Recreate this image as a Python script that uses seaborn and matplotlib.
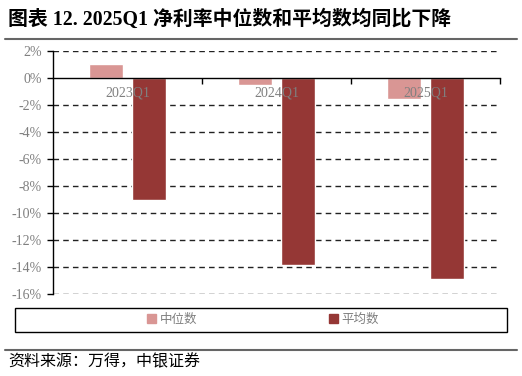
import matplotlib
matplotlib.use("Agg")
import matplotlib.pyplot as plt
import seaborn as sns
import pandas as pd
from matplotlib.lines import Line2D
from matplotlib.patches import Rectangle
from matplotlib.ticker import FixedLocator, PercentFormatter

categories = ["2023Q1", "2024Q1", "2025Q1"]
median_vals = [1.05, -0.55, -1.56]
mean_vals = [-9.06, -13.86, -14.9]
series_names = ["中位数", "平均数"]
yticks = [2, 0, -2, -4, -6, -8, -10, -12, -14, -16]

sns.set_theme(style="white")
FAM = ["Liberation Serif", "Noto Sans CJK SC"]
plt.rcParams["font.family"] = FAM
plt.rcParams["axes.unicode_minus"] = False

df = pd.DataFrame({
    "cat": categories * 2,
    "val": median_vals + mean_vals,
    "series": [series_names[0]] * 3 + [series_names[1]] * 3,
})

colors = {"中位数": "#D99694", "平均数": "#953735"}

fig = plt.figure(figsize=(5.22, 3.76), dpi=100)
ax = fig.add_axes([53 / 522, 1 - 294 / 376, 447 / 522, 243 / 376])

sns.barplot(data=df, x="cat", y="val", hue="series", palette=colors,
            width=0.576, gap=0.2, ax=ax, legend=False, saturation=1)

ax.set_xlim(-0.5, 2.5)
ax.set_ylim(-16, 2)
ax.set_xlabel("")
ax.set_ylabel("")

# grid
for y in yticks:
    if y != 0:
        ax.axhline(y, color="#222222", lw=1, ls=(0, (4, 3)), zorder=0)

for s in ["top", "right"]:
    ax.spines[s].set_visible(False)
ax.spines["bottom"].set_position(("data", 0))
ax.spines["bottom"].set_color("black")
ax.spines["bottom"].set_linewidth(1)
ax.spines["bottom"].set_zorder(5)
ax.spines["left"].set_color("black")
ax.spines["left"].set_linewidth(1)
ax.xaxis.set_zorder(10)

ax.yaxis.set_major_locator(FixedLocator(yticks))
ax.yaxis.set_major_formatter(PercentFormatter(decimals=0))
ax.tick_params(axis="y", direction="out", length=4, width=1, color="black",
               labelsize=10, labelcolor="#7f7f7f", pad=4, left=True)

ax.set_xticks([0, 1, 2])
ax.set_xticklabels(categories)
ax.xaxis.set_minor_locator(FixedLocator([0.5, 1.5, 2.5]))
ax.tick_params(axis="x", which="major", length=0, labelsize=10,
               labelcolor="#7f7f7f", pad=6)
ax.tick_params(axis="x", which="minor", direction="out", length=4, width=1,
               color="black", bottom=True)

# title
fig.text(8 / 522, 1 - 20 / 376, "图表 12. 2025Q1 净利率中位数和平均数均同比下降",
         fontsize=14.3, fontweight="bold", va="center", ha="left",
         family=FAM, color="black")
fig.add_artist(Line2D([5 / 522, 517 / 522], [1 - 39 / 376] * 2,
                      color="#666666", lw=1.5, transform=fig.transFigure))
fig.add_artist(Line2D([5 / 522, 517 / 522], [1 - 350 / 376] * 2,
                      color="#666666", lw=1.5, transform=fig.transFigure))

# legend box
fig.add_artist(Rectangle((15 / 522, 1 - 332 / 376), 492 / 522, 24 / 376,
                         fill=False, edgecolor="black", lw=1,
                         transform=fig.transFigure))
handles = [Rectangle((0, 0), 1, 1, color=colors[s]) for s in series_names]
fig.legend(handles, series_names, loc="center", ncol=2,
           bbox_to_anchor=(263 / 522, 1 - 320 / 376), frameon=False,
           labelcolor="#7f7f7f", handlelength=0.75,
           handleheight=0.75, handletextpad=0.3, columnspacing=10.5,
           prop={"family": FAM, "size": 9})

fig.text(8 / 522, 1 - 362 / 376, "资料来源：万得，中银证券", fontsize=11.5,
         va="center", ha="left", family=FAM, style="italic", color="black")

fig.savefig("out.png", dpi=100)
